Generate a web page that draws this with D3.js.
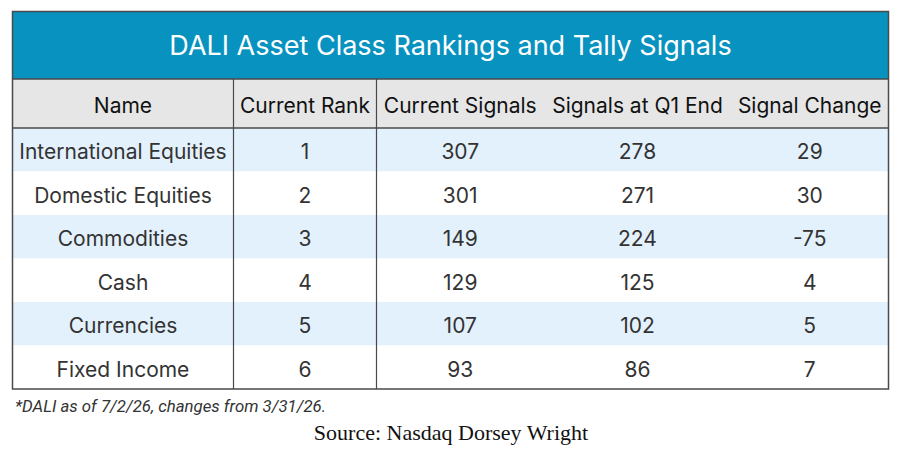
<!DOCTYPE html>
<html>
<head>
<meta charset="utf-8">
<script src="https://cdn.jsdelivr.net/npm/d3@7"></script>
<style>
  body { margin: 0; background: #fff; }
  svg { display: block; }
</style>
</head>
<body>
<div id="chart"></div>
<script>
const title = 'DALI Asset Class Rankings and Tally Signals';
const headers = ['Name', 'Current Rank', 'Current Signals', 'Signals at Q1 End', 'Signal Change'];
const names = ['International Equities', 'Domestic Equities', 'Commodities', 'Cash', 'Currencies', 'Fixed Income'];
const ranks = [1, 2, 3, 4, 5, 6];
const currentSignals = [307, 301, 149, 129, 107, 93];
const q1Signals = [278, 271, 224, 125, 102, 86];
const changes = [29, 30, -75, 4, 5, 7];
const footnote = '*DALI as of 7/2/26, changes from 3/31/26.';
const source = 'Source: Nasdaq Dorsey Wright';

const width = 903, height = 451;
const tLeft = 12.5, tRight = 888.5, tTop = 11.5, titleBottom = 79, headBottom = 128, tBottom = 389;
// column boundaries
const cols = [tLeft, 233.5, 376.5, 544, 731, tRight];
const font = 'Inter, Roboto, sans-serif';

const rows = d3.range(names.length).map(i =>
  [names[i], ranks[i], currentSignals[i], q1Signals[i], changes[i]]);

const y = d3.scaleBand()
  .domain(d3.range(rows.length))
  .range([headBottom, tBottom]);

const svg = d3.select('#chart').append('svg')
  .attr('width', width).attr('height', height);

// title band
svg.append('rect')
  .attr('x', tLeft).attr('y', tTop)
  .attr('width', tRight - tLeft).attr('height', titleBottom - tTop)
  .attr('fill', '#0892bf');
svg.append('text')
  .attr('x', (tLeft + tRight) / 2).attr('y', (tTop + titleBottom) / 2 + 9.8)
  .attr('text-anchor', 'middle')
  .attr('fill', '#fff').attr('font-family', font).attr('font-size', 27)
  .text(title);

// header
svg.append('rect')
  .attr('x', tLeft).attr('y', titleBottom)
  .attr('width', tRight - tLeft).attr('height', headBottom - titleBottom)
  .attr('fill', '#e6e6e6');

svg.append('g').selectAll('text')
  .data(headers)
  .join('text')
    .attr('x', (d, i) => (cols[i] + cols[i + 1]) / 2)
    .attr('y', (titleBottom + headBottom) / 2 + 9.5)
    .attr('text-anchor', 'middle')
    .attr('fill', '#111').attr('font-family', font).attr('font-size', 21)
    .text(d => d);

// body rows
const rowG = svg.append('g').selectAll('g')
  .data(rows)
  .join('g')
    .attr('transform', (d, i) => `translate(0,${y(i)})`);

rowG.append('rect')
  .attr('x', tLeft).attr('width', tRight - tLeft)
  .attr('height', y.bandwidth())
  .attr('fill', (d, i) => i % 2 === 0 ? '#e3f1fd' : '#fff');

rowG.selectAll('text')
  .data(d => d)
  .join('text')
    .attr('x', (d, i) => (cols[i] + cols[i + 1]) / 2)
    .attr('y', y.bandwidth() / 2 + 9.5)
    .attr('text-anchor', 'middle')
    .attr('fill', '#333').attr('font-family', font).attr('font-size', 21)
    .text(d => d);

// lines
const line = '#4a4a4a';
svg.append('line')
  .attr('x1', tLeft).attr('x2', tRight).attr('y1', titleBottom).attr('y2', titleBottom)
  .attr('stroke', line).attr('stroke-width', 1.5);
svg.append('line')
  .attr('x1', tLeft).attr('x2', tRight).attr('y1', headBottom).attr('y2', headBottom)
  .attr('stroke', line).attr('stroke-width', 1.5);
svg.append('g').selectAll('line')
  .data([cols[1], cols[2]])
  .join('line')
    .attr('x1', d => d).attr('x2', d => d)
    .attr('y1', titleBottom).attr('y2', tBottom)
    .attr('stroke', line).attr('stroke-width', 1.2);
svg.append('rect')
  .attr('x', tLeft).attr('y', tTop)
  .attr('width', tRight - tLeft).attr('height', tBottom - tTop)
  .attr('fill', 'none').attr('stroke', line).attr('stroke-width', 1.5);

// notes
svg.append('text')
  .attr('x', 15).attr('y', 412)
  .attr('fill', '#333').attr('font-family', 'Roboto, sans-serif')
  .attr('font-style', 'italic').attr('font-size', 16.8)
  .text(footnote);
svg.append('text')
  .attr('x', 451).attr('y', 440)
  .attr('text-anchor', 'middle')
  .attr('fill', '#111').attr('font-family', '"Liberation Serif", "Times New Roman", serif')
  .attr('font-size', 22)
  .text(source);
</script>
</body>
</html>
